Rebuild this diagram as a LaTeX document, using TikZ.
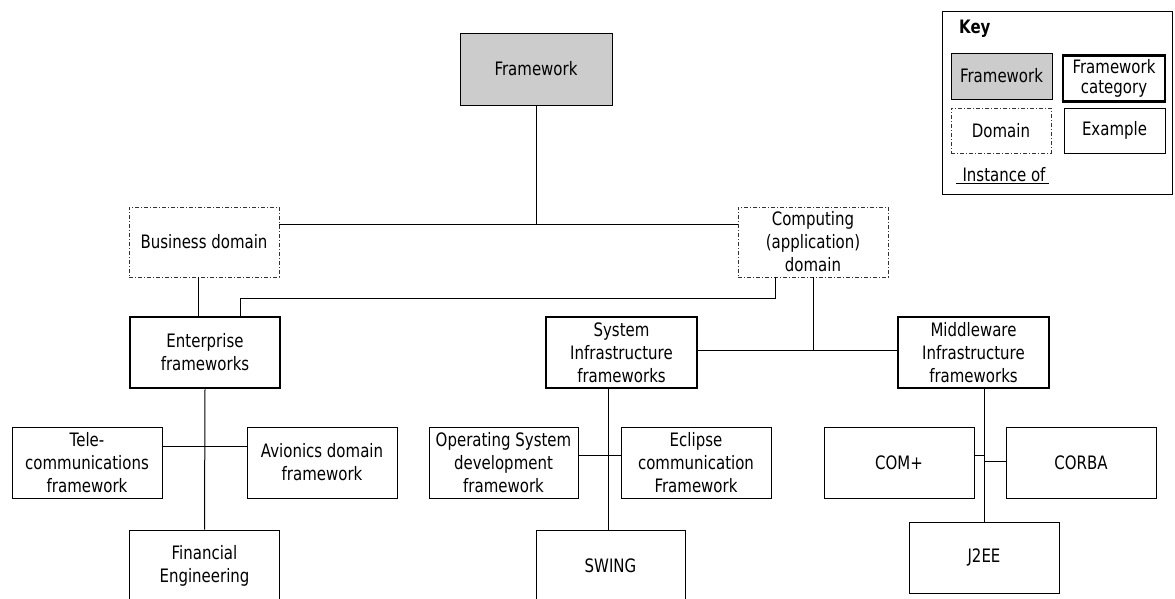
\documentclass[tikz,border=0pt]{standalone}
\usepackage{fontspec}
\setmainfont{DejaVu Sans}[FakeStretch=0.81]
\usetikzlibrary{calc}

\tikzset{
  base/.style={draw, inner sep=0pt, align=center, font=\fontsize{18.5}{23}\selectfont, line width=1pt},
  fwbox/.style={base, fill=black!20, minimum width=152pt, minimum height=72pt},
  dombox/.style={base, line width=0.8pt, draw=black!80, dash pattern=on 4pt off 2pt on 1pt off 2pt, minimum width=150pt, minimum height=70pt},
  catbox/.style={base, line width=2.6pt, minimum width=150pt, minimum height=71pt},
  exbox/.style={base, minimum width=150pt, minimum height=71pt},
  link/.style={line width=1pt},
}

\begin{document}
\begin{tikzpicture}[x=1pt, y=-1pt]
\useasboundingbox (0,0) rectangle (1175,598);

% root and domains
\node[fwbox] (fw) at (536,69) {Framework};
\node[dombox] (bus) at (204,242) {Business domain};
\node[dombox] (comp) at (813,242) {Computing\\(application)\\domain};

% framework categories
\node[catbox] (ent) at (205,352.5) {Enterprise\\frameworks};
\node[catbox, minimum width=151pt] (si) at (621.5,352.5) {System\\Infrastructure\\frameworks};
\node[catbox, minimum width=151pt] (mw) at (973.5,352.5) {Middleware\\Infrastructure\\frameworks};

% examples
\node[exbox] (tele) at (87,462.5) {Tele-\\communications\\framework};
\node[exbox] (avi) at (322,462.5) {Avionics domain\\framework};
\node[exbox] (fin) at (204.5,565.5) {Financial\\Engineering};
\node[exbox, minimum width=149pt] (os) at (503.5,462.5) {Operating System\\development\\framework};
\node[exbox] (ecl) at (696,462.5) {Eclipse\\communication\\Framework};
\node[exbox, minimum width=149pt] (swing) at (610.5,565.5) {SWING};
\node[exbox] (com) at (899,462.5) {COM+};
\node[exbox] (corba) at (1081,462.5) {CORBA};
\node[exbox] (j2ee) at (984,557.5) {J2EE};

% junction points
\coordinate (j1) at (536,224);
\coordinate (c2) at (240,298);
\coordinate (j2) at (813,350);
\coordinate (j3) at (205,446);
\coordinate (j4) at (608,455);
\coordinate (j5) at (984,455);
\coordinate (j6) at (984,461);

% connectors
\draw[link] (fw.south) -- (j1);
\draw[link] (j1 -| bus.east) -- (j1 -| comp.west);
\draw[link] ([xshift=-6pt]bus.south) -- ([xshift=-6pt]bus.south |- ent.north);
\draw[link] ([xshift=-38pt]comp.south) |- (c2) -- (c2 |- ent.north);
\draw[link] (comp.south) -- (j2);
\draw[link] (j2 -| si.east) -- (j2 -| mw.west);

\draw[link] (ent.south) -- (fin.north);
\draw[link] (j3 -| tele.east) -- (j3 -| avi.west);

\draw[link] (j4 |- si.south) -- (j4 |- swing.north);
\draw[link] (j4 -| os.east) -- (j4 -| ecl.west);

\draw[link] (j5 |- mw.south) -- (j5 |- j2ee.north);
\draw[link] (j5 -| com.east) -- (j5);
\draw[link] (j6) -- (j6 -| corba.west);

% key
\node[draw, line width=1pt, minimum width=230pt, minimum height=183pt, inner sep=0pt] (key) at (1057,102.5) {};
\node[font=\fontsize{18.5}{20}\selectfont\bfseries, anchor=west, inner sep=0pt] (keyt) at (959,29) {Key};
\node[fwbox, minimum width=101pt, minimum height=46pt] (kfw) at (1001.5,76) {Framework};
\node[catbox, minimum width=102pt, minimum height=46pt, font=\fontsize{18.5}{20}\selectfont] (kcat) at (1114,78.5) {Framework\\category};
\node[dombox, minimum width=100pt, minimum height=45pt] (kdom) at (1001,130.5) {Domain};
\node[exbox, minimum width=101pt, minimum height=45pt] (kex) at (1114.5,130.5) {Example};
\node[font=\fontsize{18.5}{20}\selectfont, inner sep=0pt] (kinst) at (1004,175) {Instance of};
\coordinate (u1) at (956,183.5);
\coordinate (u2) at (1049,183.5);
\draw[line width=1pt] (u1) -- (u2);
\end{tikzpicture}
\end{document}
